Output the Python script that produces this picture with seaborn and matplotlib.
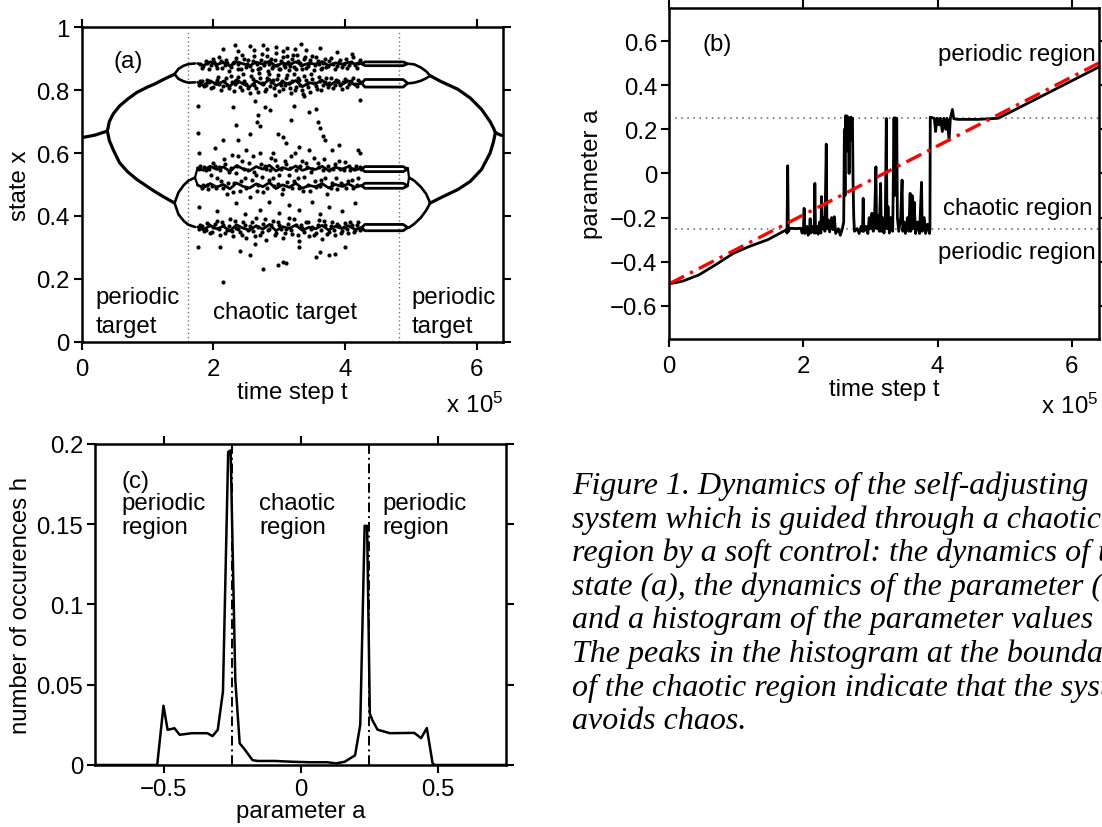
import matplotlib
matplotlib.use("Agg")
import matplotlib.pyplot as plt
import seaborn as sns

sns.set_style("ticks")
plt.rcParams['font.family'] = ['Liberation Sans', 'DejaVu Sans']
plt.rcParams['mathtext.fontset'] = 'custom'
plt.rcParams['mathtext.rm'] = 'Liberation Sans'
plt.rcParams['text.color'] = 'black'
plt.rcParams['axes.labelcolor'] = 'black'
plt.rcParams['xtick.color'] = 'black'
plt.rcParams['ytick.color'] = 'black'

# ---------------- panel (a): state x, time in units of 1e5 ----------------
trunk_left_t = [0.0, 0.2, 0.39]
trunk_left_x = [0.649, 0.657, 0.67]
trunk_right_t = [6.28, 6.35, 6.4]
trunk_right_x = [0.665, 0.658, 0.655]

p2_left_t = [0.39, 0.42, 0.48, 0.576, 0.70, 0.838, 1.0, 1.1, 1.25, 1.41]
p2_left_up = [0.67, 0.70, 0.725, 0.75, 0.772, 0.793, 0.81, 0.819, 0.835, 0.851]
p2_left_lo = [0.67, 0.64, 0.61, 0.569, 0.54, 0.516, 0.493, 0.479, 0.46, 0.441]
p2_right_t = [5.29, 5.45, 5.71, 5.9, 6.07, 6.2, 6.25, 6.28]
p2_right_up = [0.846, 0.828, 0.803, 0.775, 0.739, 0.70, 0.68, 0.665]
p2_right_lo = [0.441, 0.458, 0.484, 0.51, 0.548, 0.6, 0.635, 0.665]

p4_left_t = [1.41, 1.47, 1.55, 1.62, 1.72]
p4_left_a = [0.851, 0.868, 0.878, 0.883, 0.885]
p4_left_b = [0.851, 0.836, 0.828, 0.824, 0.825]
p4_left_c = [0.441, 0.475, 0.498, 0.512, 0.522]
p4_left_d = [0.441, 0.405, 0.384, 0.372, 0.365]
p4_right_t = [4.97, 5.05, 5.15, 5.23, 5.29]
p4_right_a = [0.884, 0.882, 0.872, 0.86, 0.846]
p4_right_b = [0.822, 0.824, 0.83, 0.838, 0.846]
p4_right_c = [0.522, 0.512, 0.492, 0.47, 0.441]
p4_right_d = [0.363, 0.375, 0.395, 0.418, 0.441]

join_left_t = [1.72, 1.76]
join_right_t = [4.95, 4.97]
join_hi = [0.522, 0.553]
join_lo = [0.522, 0.498]

cigar_right_t = [4.25, 4.3, 4.88, 4.95, 4.88, 4.3, 4.25]
cigar_x = [
    [0.884, 0.890, 0.890, 0.884, 0.878, 0.878, 0.884],
    [0.822, 0.834, 0.834, 0.822, 0.810, 0.810, 0.822],
    [0.549, 0.557, 0.557, 0.549, 0.541, 0.541, 0.549],
    [0.496, 0.504, 0.504, 0.496, 0.488, 0.488, 0.496],
    [0.363, 0.373, 0.373, 0.363, 0.353, 0.353, 0.363],
]

core_t = [1.76, 1.85, 1.95, 2.05, 2.15, 2.25, 2.35, 2.45, 2.55, 2.65, 2.75, 2.85, 2.95,
          3.05, 3.15, 3.25, 3.35, 3.45, 3.55, 3.65, 3.75, 3.85, 3.95, 4.05, 4.15, 4.25]
core_x = [
    [0.885, 0.879, 0.89, 0.882, 0.888, 0.877, 0.891, 0.884, 0.878, 0.889, 0.883, 0.892, 0.876,
     0.887, 0.881, 0.89, 0.879, 0.886, 0.883, 0.891, 0.878, 0.887, 0.882, 0.889, 0.884, 0.886],
    [0.825, 0.815, 0.83, 0.818, 0.828, 0.812, 0.833, 0.82, 0.81, 0.829, 0.817, 0.835, 0.814,
     0.826, 0.819, 0.831, 0.811, 0.824, 0.82, 0.832, 0.813, 0.827, 0.818, 0.83, 0.816, 0.823],
    [0.553, 0.545, 0.558, 0.548, 0.556, 0.542, 0.56, 0.55, 0.544, 0.557, 0.549, 0.561, 0.543,
     0.554, 0.547, 0.559, 0.545, 0.552, 0.548, 0.558, 0.544, 0.555, 0.549, 0.557, 0.546, 0.552],
    [0.498, 0.49, 0.503, 0.492, 0.5, 0.486, 0.505, 0.494, 0.489, 0.502, 0.493, 0.506, 0.487,
     0.499, 0.491, 0.504, 0.488, 0.497, 0.493, 0.503, 0.489, 0.5, 0.494, 0.502, 0.491, 0.497],
    [0.365, 0.356, 0.37, 0.359, 0.367, 0.352, 0.372, 0.361, 0.355, 0.369, 0.358, 0.373, 0.353,
     0.366, 0.36, 0.371, 0.354, 0.364, 0.359, 0.37, 0.355, 0.367, 0.36, 0.369, 0.357, 0.363],
]

chaos_dots = [
    # around the top band
    (1.82, 0.872), (1.88, 0.893), (1.93, 0.866), (1.99, 0.898), (2.04, 0.879), (2.08, 0.905),
    (2.13, 0.87), (2.19, 0.896), (2.24, 0.861), (2.29, 0.888), (2.35, 0.902), (2.38, 0.868),
    (2.44, 0.912), (2.49, 0.875), (2.53, 0.897), (2.58, 0.864), (2.62, 0.908), (2.66, 0.882),
    (2.71, 0.871), (2.74, 0.915), (2.79, 0.889), (2.83, 0.862), (2.87, 0.9), (2.91, 0.876),
    (2.95, 0.918), (2.99, 0.867), (3.03, 0.894), (3.07, 0.881), (3.11, 0.909), (3.15, 0.863),
    (3.19, 0.899), (3.23, 0.874), (3.27, 0.913), (3.31, 0.886), (3.35, 0.869), (3.39, 0.904),
    (3.43, 0.878), (3.47, 0.895), (3.52, 0.865), (3.56, 0.907), (3.6, 0.883), (3.65, 0.871),
    (3.69, 0.898), (3.74, 0.877), (3.79, 0.903), (3.84, 0.868), (3.9, 0.891), (3.95, 0.874),
    (4.01, 0.9), (4.06, 0.88), (4.12, 0.906), (4.18, 0.872), (4.23, 0.895),
    (1.79, 0.884), (1.84, 0.878), (1.9, 0.887), (1.96, 0.881), (2.01, 0.889), (2.06, 0.871),
    (2.11, 0.893), (2.17, 0.879), (2.21, 0.886), (2.27, 0.874), (2.32, 0.891), (2.37, 0.882),
    (2.42, 0.869), (2.47, 0.9), (2.51, 0.884), (2.56, 0.877), (2.6, 0.893), (2.68, 0.866),
    (2.72, 0.897), (2.77, 0.879), (2.81, 0.908), (2.85, 0.884), (2.89, 0.871), (2.93, 0.896),
    (2.97, 0.88), (3.01, 0.868), (3.05, 0.905), (3.09, 0.873), (3.13, 0.89), (3.17, 0.878),
    (3.21, 0.911), (3.25, 0.868), (3.29, 0.892), (3.33, 0.879), (3.37, 0.9), (3.41, 0.872),
    (3.45, 0.886), (3.49, 0.908), (3.54, 0.879), (3.58, 0.894), (3.63, 0.866), (3.67, 0.887),
    (3.71, 0.874), (3.76, 0.893), (3.81, 0.884), (3.87, 0.876), (3.92, 0.897), (3.98, 0.883),
    (4.03, 0.872), (4.09, 0.889), (4.15, 0.881), (4.2, 0.886),
    (2.15, 0.932), (2.33, 0.945), (2.38, 0.925), (2.55, 0.94), (2.62, 0.928), (2.76, 0.943),
    (2.82, 0.93), (2.95, 0.938), (3.05, 0.925), (3.12, 0.935), (3.24, 0.93), (3.33, 0.948),
    (3.41, 0.928), (3.62, 0.935), (3.88, 0.922), (4.1, 0.915),
    # around the 0.82 band
    (1.8, 0.828), (1.86, 0.812), (1.91, 0.834), (1.97, 0.806), (2.02, 0.823), (2.07, 0.841),
    (2.11, 0.802), (2.16, 0.83), (2.21, 0.815), (2.26, 0.845), (2.31, 0.797), (2.36, 0.826),
    (2.41, 0.81), (2.45, 0.85), (2.5, 0.819), (2.55, 0.79), (2.6, 0.836), (2.64, 0.807),
    (2.69, 0.855), (2.73, 0.823), (2.78, 0.798), (2.82, 0.84), (2.86, 0.812), (2.9, 0.832),
    (2.94, 0.785), (2.98, 0.848), (3.02, 0.818), (3.06, 0.803), (3.1, 0.838), (3.14, 0.824),
    (3.18, 0.792), (3.22, 0.852), (3.26, 0.81), (3.3, 0.831), (3.34, 0.801), (3.38, 0.845),
    (3.42, 0.82), (3.46, 0.795), (3.5, 0.836), (3.55, 0.813), (3.6, 0.842), (3.64, 0.8),
    (3.69, 0.827), (3.74, 0.809), (3.79, 0.839), (3.84, 0.816), (3.89, 0.83), (3.95, 0.805),
    (4.0, 0.835), (4.06, 0.82), (4.12, 0.838), (4.18, 0.812), (4.22, 0.826),
    (1.78, 0.815), (1.83, 0.83), (1.89, 0.818), (1.94, 0.826), (2.0, 0.81), (2.05, 0.832),
    (2.09, 0.821), (2.14, 0.812), (2.19, 0.838), (2.23, 0.806), (2.28, 0.827), (2.33, 0.819),
    (2.38, 0.842), (2.43, 0.8), (2.47, 0.83), (2.53, 0.808), (2.57, 0.845), (2.62, 0.816),
    (2.67, 0.795), (2.71, 0.838), (2.76, 0.82), (2.8, 0.803), (2.84, 0.85), (2.88, 0.826),
    (2.92, 0.806), (2.96, 0.835), (3.0, 0.798), (3.04, 0.83), (3.08, 0.815), (3.12, 0.848),
    (3.16, 0.808), (3.2, 0.828), (3.24, 0.802), (3.28, 0.84), (3.32, 0.818), (3.36, 0.788),
    (3.4, 0.833), (3.44, 0.81), (3.48, 0.85), (3.53, 0.823), (3.57, 0.805), (3.62, 0.829),
    (3.66, 0.815), (3.71, 0.84), (3.76, 0.822), (3.81, 0.806), (3.86, 0.832), (3.92, 0.818),
    (3.97, 0.826), (4.03, 0.811), (4.09, 0.829), (4.15, 0.82), (4.2, 0.833),
    # sparse middle
    (1.77, 0.75), (1.77, 0.665), (1.78, 0.6), (2.02, 0.615), (2.14, 0.64), (2.3, 0.745),
    (2.34, 0.69), (2.38, 0.64), (2.56, 0.662), (2.63, 0.765), (2.66, 0.7), (2.68, 0.72),
    (2.71, 0.685), (2.78, 0.745), (2.86, 0.738), (2.98, 0.66), (3.05, 0.65), (3.1, 0.632),
    (3.18, 0.705), (3.22, 0.75), (3.3, 0.62), (3.38, 0.78), (3.45, 0.73), (3.55, 0.74),
    (3.58, 0.7), (3.62, 0.68), (3.66, 0.655), (3.69, 0.64), (3.8, 0.61), (3.9, 0.625),
    (4.2, 0.61), (4.22, 0.77),
    # around 0.5 - 0.6
    (1.8, 0.56), (1.84, 0.5), (1.88, 0.545), (1.92, 0.485), (1.96, 0.53), (2.0, 0.57),
    (2.04, 0.49), (2.08, 0.555), (2.12, 0.512), (2.16, 0.58), (2.2, 0.47), (2.24, 0.54),
    (2.28, 0.595), (2.32, 0.505), (2.36, 0.56), (2.4, 0.48), (2.44, 0.575), (2.48, 0.52),
    (2.52, 0.545), (2.56, 0.46), (2.6, 0.59), (2.64, 0.53), (2.68, 0.5), (2.72, 0.565),
    (2.76, 0.475), (2.8, 0.548), (2.84, 0.515), (2.88, 0.585), (2.92, 0.495), (2.96, 0.56),
    (3.0, 0.53), (3.04, 0.47), (3.08, 0.575), (3.12, 0.508), (3.16, 0.552), (3.2, 0.488),
    (3.24, 0.6), (3.28, 0.522), (3.32, 0.558), (3.36, 0.478), (3.4, 0.57), (3.44, 0.5),
    (3.48, 0.54), (3.52, 0.585), (3.56, 0.492), (3.6, 0.555), (3.64, 0.515), (3.68, 0.58),
    (3.72, 0.47), (3.76, 0.545), (3.8, 0.505), (3.84, 0.565), (3.88, 0.485), (3.92, 0.55),
    (3.96, 0.498), (4.0, 0.572), (4.04, 0.51), (4.08, 0.545), (4.12, 0.49), (4.16, 0.56),
    (4.2, 0.52), (4.24, 0.548), (2.5, 0.61), (2.9, 0.6), (3.45, 0.61), (4.22, 0.6),
    (1.78, 0.55), (1.82, 0.49), (1.86, 0.556), (1.9, 0.5), (1.94, 0.548), (1.98, 0.494),
    (2.02, 0.56), (2.06, 0.52), (2.1, 0.545), (2.14, 0.488), (2.18, 0.565), (2.22, 0.505),
    (2.26, 0.552), (2.3, 0.475), (2.34, 0.538), (2.38, 0.592), (2.42, 0.51), (2.46, 0.55),
    (2.5, 0.49), (2.54, 0.57), (2.58, 0.515), (2.62, 0.54), (2.66, 0.48), (2.7, 0.6),
    (2.74, 0.525), (2.78, 0.56), (2.82, 0.49), (2.86, 0.545), (2.9, 0.52), (2.94, 0.578),
    (2.98, 0.503), (3.02, 0.55), (3.06, 0.485), (3.1, 0.565), (3.14, 0.53), (3.18, 0.59),
    (3.22, 0.51), (3.26, 0.545), (3.3, 0.49), (3.34, 0.575), (3.38, 0.525), (3.42, 0.555),
    (3.46, 0.48), (3.5, 0.55), (3.54, 0.51), (3.58, 0.57), (3.62, 0.495), (3.66, 0.545),
    (3.7, 0.52), (3.74, 0.56), (3.78, 0.488), (3.82, 0.55), (3.86, 0.52), (3.9, 0.575),
    (3.94, 0.505), (3.98, 0.545), (4.02, 0.49), (4.06, 0.558), (4.1, 0.515), (4.14, 0.55),
    (4.18, 0.5), (4.22, 0.555),
    # 0.40 - 0.45 gap
    (1.78, 0.43), (2.05, 0.415), (2.35, 0.44), (2.48, 0.405), (2.7, 0.42), (2.85, 0.445),
    (3.0, 0.41), (3.15, 0.435), (3.3, 0.42), (3.5, 0.445), (3.62, 0.405), (3.75, 0.43),
    (3.95, 0.415), (4.15, 0.44),
    # around the 0.365 band
    (1.8, 0.372), (1.85, 0.352), (1.9, 0.378), (1.95, 0.345), (2.0, 0.365), (2.05, 0.385),
    (2.1, 0.34), (2.15, 0.37), (2.2, 0.355), (2.25, 0.39), (2.3, 0.335), (2.35, 0.362),
    (2.4, 0.348), (2.45, 0.382), (2.5, 0.33), (2.55, 0.368), (2.6, 0.352), (2.65, 0.395),
    (2.7, 0.34), (2.75, 0.375), (2.8, 0.325), (2.85, 0.36), (2.9, 0.385), (2.95, 0.345),
    (3.0, 0.37), (3.05, 0.33), (3.1, 0.358), (3.15, 0.392), (3.2, 0.342), (3.25, 0.372),
    (3.3, 0.32), (3.35, 0.362), (3.4, 0.38), (3.45, 0.335), (3.5, 0.365), (3.55, 0.345),
    (3.6, 0.388), (3.65, 0.328), (3.7, 0.37), (3.75, 0.35), (3.8, 0.38), (3.85, 0.34),
    (3.9, 0.368), (3.95, 0.352), (4.0, 0.378), (4.05, 0.345), (4.1, 0.372), (4.15, 0.355),
    (4.2, 0.38), (4.24, 0.36),
    (1.78, 0.36), (1.83, 0.368), (1.88, 0.355), (1.93, 0.372), (1.98, 0.35), (2.03, 0.375),
    (2.08, 0.358), (2.13, 0.38), (2.18, 0.345), (2.23, 0.367), (2.28, 0.352), (2.33, 0.385),
    (2.38, 0.36), (2.43, 0.34), (2.48, 0.372), (2.53, 0.355), (2.58, 0.38), (2.63, 0.335),
    (2.68, 0.365), (2.73, 0.35), (2.78, 0.39), (2.83, 0.355), (2.88, 0.37), (2.93, 0.34),
    (2.98, 0.38), (3.03, 0.36), (3.08, 0.345), (3.13, 0.375), (3.18, 0.355), (3.23, 0.39),
    (3.28, 0.34), (3.33, 0.37), (3.38, 0.35), (3.43, 0.382), (3.48, 0.36), (3.53, 0.338),
    (3.58, 0.372), (3.63, 0.355), (3.68, 0.385), (3.73, 0.342), (3.78, 0.368), (3.83, 0.356),
    (3.88, 0.375), (3.93, 0.345), (3.98, 0.366), (4.03, 0.358), (4.08, 0.38), (4.13, 0.35),
    (4.18, 0.37), (4.23, 0.355),
    # low outliers
    (1.77, 0.3), (2.1, 0.3), (2.15, 0.19), (2.4, 0.29), (2.55, 0.275), (2.63, 0.31),
    (2.75, 0.23), (2.98, 0.245), (3.05, 0.255), (3.1, 0.25), (3.3, 0.3), (3.55, 0.27),
    (3.62, 0.285), (3.75, 0.275), (3.85, 0.28), (4.0, 0.3),
]

# ---------------- panel (b): parameter a over time ----------------
param_trace = [
    (0.00, -0.500), (0.20, -0.488), (0.44, -0.460), (0.70, -0.412), (0.955, -0.362),
    (1.20, -0.330), (1.47, -0.300), (1.74, -0.256), (1.755, -0.270), (1.765, 0.035),
    (1.775, -0.262), (1.80, -0.248), (1.90, -0.250), (1.96, -0.248), (1.98, -0.270),
    (2.00, -0.250), (2.01, -0.158), (2.02, -0.272), (2.05, -0.240), (2.07, -0.280),
    (2.09, -0.250), (2.10, -0.205), (2.11, -0.270), (2.14, -0.240), (2.16, -0.270),
    (2.17, -0.045), (2.18, -0.270), (2.20, -0.240), (2.22, -0.275), (2.24, -0.220),
    (2.26, -0.270), (2.27, -0.105), (2.28, -0.250), (2.30, -0.200), (2.32, -0.262),
    (2.34, 0.133), (2.35, -0.250), (2.37, -0.210), (2.39, -0.265), (2.42, -0.200),
    (2.44, -0.255), (2.46, -0.196), (2.48, -0.272), (2.52, -0.250), (2.55, -0.280),
    (2.58, -0.250), (2.60, -0.220), (2.61, 0.200), (2.62, -0.100), (2.63, 0.262),
    (2.64, 0.100), (2.65, 0.260), (2.66, 0.200), (2.67, 0.255), (2.68, 0.000),
    (2.69, 0.250), (2.70, 0.150), (2.71, 0.255), (2.72, 0.240), (2.73, 0.250),
    (2.74, -0.050), (2.75, -0.200), (2.76, -0.262), (2.80, -0.250), (2.83, -0.272),
    (2.86, -0.240), (2.88, -0.262), (2.89, -0.113), (2.90, -0.262), (2.93, -0.240),
    (2.96, -0.272), (2.98, -0.200), (3.00, -0.250), (3.02, -0.180), (3.04, -0.262),
    (3.06, -0.200), (3.08, 0.030), (3.09, -0.250), (3.11, -0.190), (3.13, -0.262),
    (3.15, -0.045), (3.16, -0.262), (3.18, -0.200), (3.20, -0.270), (3.22, -0.200),
    (3.235, 0.249), (3.245, -0.250), (3.26, -0.150), (3.28, -0.270), (3.30, -0.200),
    (3.33, -0.262), (3.35, 0.252), (3.36, -0.100), (3.37, 0.252), (3.38, 0.000),
    (3.39, 0.250), (3.40, -0.200), (3.42, -0.262), (3.45, -0.200), (3.47, -0.030),
    (3.48, -0.262), (3.50, -0.220), (3.52, -0.272), (3.55, -0.200), (3.57, -0.262),
    (3.59, -0.090), (3.60, -0.262), (3.62, -0.100), (3.63, -0.250), (3.65, -0.130),
    (3.67, -0.272), (3.70, -0.220), (3.73, -0.272), (3.76, -0.040), (3.77, -0.262),
    (3.80, -0.200), (3.82, -0.272), (3.85, -0.230), (3.88, -0.272), (3.885, -0.250),
    (3.89, 0.255), (3.95, 0.250), (3.97, 0.190), (3.99, 0.250), (4.02, 0.220),
    (4.04, 0.250), (4.07, 0.190), (4.09, 0.250), (4.12, 0.200), (4.14, 0.250),
    (4.17, 0.150), (4.19, 0.250), (4.22, 0.290), (4.24, 0.248), (4.30, 0.245),
    (4.60, 0.245), (4.90, 0.250), (5.20, 0.296), (5.60, 0.358), (6.00, 0.420),
    (6.40, 0.482),
]
param_t = [p[0] for p in param_trace]
param_a = [p[1] for p in param_trace]
target_t = [0.0, 6.4]
target_a = [-0.5, 0.5]
region_bounds = [-0.25, 0.25]

# ---------------- panel (c): histogram of a ----------------
hist_a = [-0.75, -0.523, -0.5, -0.485, -0.46, -0.441, -0.397, -0.34, -0.321, -0.302, -0.283,
          -0.264, -0.255, -0.238, -0.222, -0.207, -0.175, -0.156, -0.093, -0.029, 0.034,
          0.098, 0.129, 0.161, 0.199, 0.218, 0.234, 0.243, 0.253, 0.262, 0.281, 0.326, 0.415,
          0.44, 0.461, 0.482, 0.49, 0.75]
hist_h = [0.0, 0.0, 0.0369, 0.0219, 0.0229, 0.0188, 0.0198, 0.0198, 0.018, 0.0219, 0.0458,
          0.195, 0.196, 0.053, 0.0135, 0.0104, 0.003, 0.0025, 0.0025, 0.002, 0.0017,
          0.0017, 0.001, 0.002, 0.006, 0.025, 0.149, 0.149, 0.032, 0.028, 0.022, 0.0198, 0.020,
          0.0167, 0.023, 0.001, 0.0, 0.0]

caption_lines = [
    "Figure 1. Dynamics of the self-adjusting",
    "system which is guided through a chaotic",
    "region by a soft control: the dynamics of the",
    "state (a), the dynamics of the parameter (b)",
    "and a histogram of the parameter values (c).",
    "The peaks in the histogram at the boundaries",
    "of the chaotic region indicate that the system",
    "avoids chaos.",
]

FS = 17.3


def curve(ax, x, y, lw=2.0, color='k', **kw):
    sns.lineplot(x=x, y=y, sort=False, estimator=None, color=color, lw=lw, ax=ax,
                 legend=False, **kw)


def style(ax):
    for sp in ax.spines.values():
        sp.set_visible(True)
        sp.set_linewidth(1.8)
        sp.set_color('k')
    ax.tick_params(direction='out', length=5.5, width=1.5, top=True, right=True,
                   labelsize=FS, colors='k')
    ax.tick_params(axis='x', pad=6)
    ax.tick_params(axis='y', pad=3)
    ax.set_facecolor('white')


fig = plt.figure(figsize=(11.02, 8.28), dpi=100)
ax_a = fig.add_axes([0.0741, 0.5861, 0.3826, 0.3797])
ax_b = fig.add_axes([0.6073, 0.5894, 0.3897, 0.3998])
ax_c = fig.add_axes([0.0862, 0.0749, 0.3730, 0.3877])

# ---- (a)
for tv in [1.607, 4.817]:
    ax_a.plot([tv, tv], [0, 0.99], color='0.45', lw=1.0, ls=(0, (1, 2)))
curve(ax_a, trunk_left_t, trunk_left_x, lw=2.3)
curve(ax_a, trunk_right_t, trunk_right_x, lw=2.3)
for branch in [p2_left_up, p2_left_lo]:
    curve(ax_a, p2_left_t, branch, lw=2.3)
for branch in [p2_right_up, p2_right_lo]:
    curve(ax_a, p2_right_t, branch, lw=2.3)
for branch in [p4_left_a, p4_left_b, p4_left_c, p4_left_d]:
    curve(ax_a, p4_left_t, branch, lw=1.9)
for branch in [p4_right_a, p4_right_b, p4_right_c, p4_right_d]:
    curve(ax_a, p4_right_t, branch, lw=1.9)
for jx in [join_hi, join_lo]:
    curve(ax_a, join_left_t, jx, lw=1.6)
    curve(ax_a, join_right_t, [jx[1], jx[0]], lw=1.6)
for cx in cigar_x:
    curve(ax_a, cigar_right_t, cx, lw=2.0)
for cx in core_x:
    curve(ax_a, core_t, cx, lw=2.0)
sns.scatterplot(x=[d[0] for d in chaos_dots], y=[d[1] for d in chaos_dots], s=9,
                color='k', linewidth=0, ax=ax_a, legend=False)
ax_a.set_xlim(0, 6.4)
ax_a.set_ylim(0, 1)
ax_a.set_xticks([0, 2, 4, 6], ["0", "2", "4", "6"])
ax_a.set_yticks([0, 0.2, 0.4, 0.6, 0.8, 1.0], ["0", "0.2", "0.4", "0.6", "0.8", "1"])
ax_a.set_xlabel("time step t", fontsize=FS, labelpad=1)
ax_a.set_ylabel("state x", fontsize=FS, labelpad=4)
style(ax_a)
ax_a.text(0.71, 0.894, "(a)", fontsize=FS, ha='center', va='center')
ax_a.text(0.21, 0.096, "periodic\ntarget", fontsize=FS, ha='left', va='center',
          linespacing=1.4)
ax_a.text(3.09, 0.096, "chaotic target", fontsize=FS, ha='center', va='center')
ax_a.text(5.01, 0.096, "periodic\ntarget", fontsize=FS, ha='left', va='center',
          linespacing=1.4)
ax_a.text(1.0, -0.2, r"$\mathregular{x\ 10^5}$", transform=ax_a.transAxes,
          fontsize=FS, ha='right', va='center')

# ---- (b)
for av in region_bounds:
    ax_b.axhline(av, color='0.35', lw=1.1, ls=(0, (1, 3)))
curve(ax_b, param_t, param_a, lw=2.0)
curve(ax_b, target_t, target_a, lw=2.4, color='red', linestyle=(0, (5, 2, 1, 2)))
ax_b.set_xlim(0, 6.4)
ax_b.set_ylim(-0.75, 0.75)
ax_b.set_xticks([0, 2, 4, 6], ["0", "2", "4", "6"])
ax_b.set_yticks([-0.6, -0.4, -0.2, 0, 0.2, 0.4, 0.6],
                ["\u22120.6", "\u22120.4", "\u22120.2", "0", "0.2", "0.4", "0.6"])
ax_b.set_xlabel("time step t", fontsize=FS, labelpad=1)
ax_b.set_ylabel("parameter a", fontsize=FS, labelpad=5)
style(ax_b)
ax_b.text(0.72, 0.588, "(b)", fontsize=FS, ha='center', va='center')
ax_b.text(6.35, 0.543, "periodic region", fontsize=FS, ha='right', va='center')
ax_b.text(6.30, -0.158, "chaotic region", fontsize=FS, ha='right', va='center')
ax_b.text(6.35, -0.354, "periodic region", fontsize=FS, ha='right', va='center')
ax_b.text(1.0, -0.2, r"$\mathregular{x\ 10^5}$", transform=ax_b.transAxes,
          fontsize=FS, ha='right', va='center')

# ---- (c)
for av in region_bounds:
    ax_c.plot([av, av], [0, 0.2], color='k', lw=1.4, ls=(0, (5, 2, 1, 2)))
curve(ax_c, hist_a, hist_h, lw=1.8)
ax_c.set_xlim(-0.75, 0.75)
ax_c.set_ylim(0, 0.2)
ax_c.set_xticks([-0.5, 0, 0.5], ["\u22120.5", "0", "0.5"])
ax_c.set_yticks([0, 0.05, 0.1, 0.15, 0.2], ["0", "0.05", "0.1", "0.15", "0.2"])
ax_c.set_xlabel("parameter a", fontsize=FS, labelpad=0)
ax_c.set_ylabel("number of occurences h", fontsize=FS, labelpad=3)
style(ax_c)
ax_c.tick_params(axis='x', pad=4)
ax_c.text(-0.653, 0.177, "(c)", fontsize=FS, ha='left', va='center')
ax_c.text(-0.653, 0.156, "periodic\nregion", fontsize=FS, ha='left', va='center',
          linespacing=1.12)
ax_c.text(-0.15, 0.156, "chaotic\nregion", fontsize=FS, ha='left', va='center',
          linespacing=1.12)
ax_c.text(0.30, 0.156, "periodic\nregion", fontsize=FS, ha='left', va='center',
          linespacing=1.12)

# ---- caption
for i, line in enumerate(caption_lines):
    fig.text(572 / 1102, 1 - (494 + i * 33.6) / 828, line, fontsize=23,
             family=['Liberation Serif', 'DejaVu Serif'], style='italic',
             ha='left', va='baseline')

fig.savefig("out.png", dpi=100, facecolor='white')
